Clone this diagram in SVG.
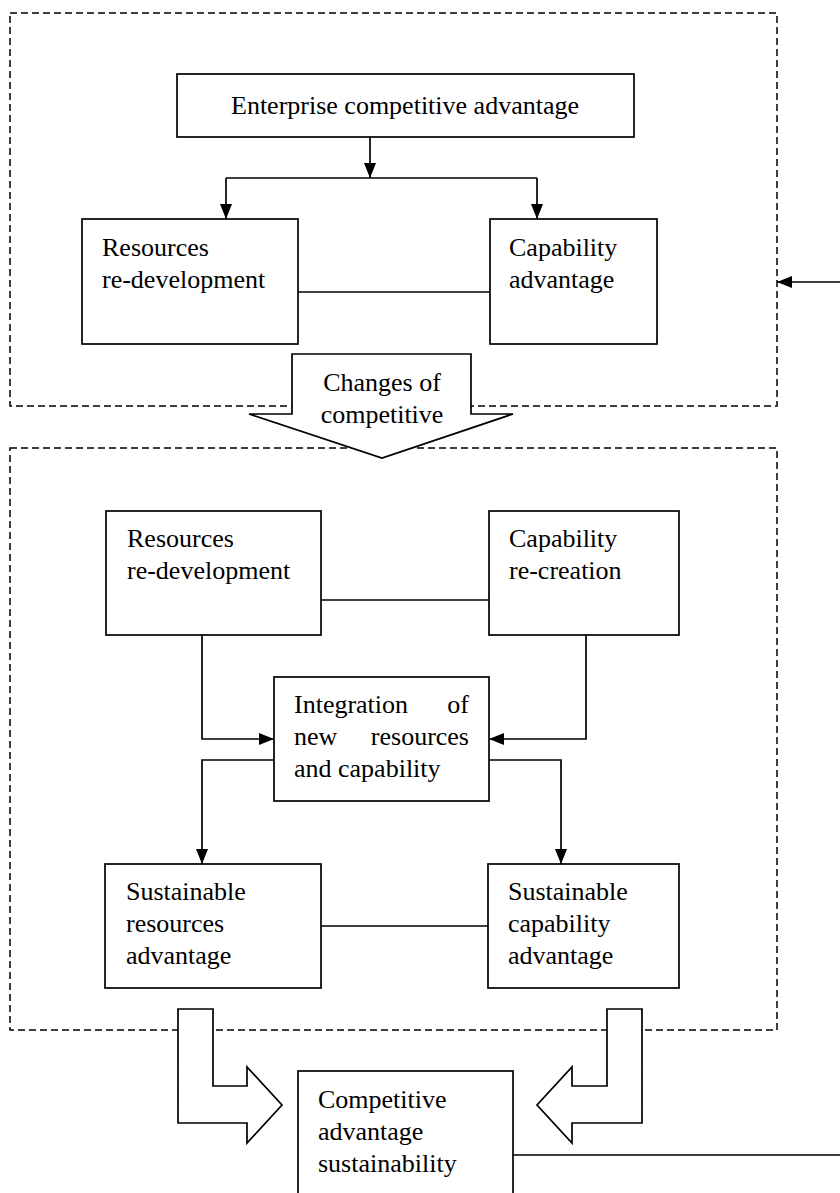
<svg xmlns="http://www.w3.org/2000/svg" width="840" height="1193" viewBox="0 0 840 1193">
<style>
.box{fill:#fff;stroke:#000;stroke-width:1.7}
.dash{fill:none;stroke:#000;stroke-width:1.5;stroke-dasharray:7,4}
.hollow{fill:#fff;stroke:#000;stroke-width:1.7;stroke-linejoin:miter}
.ln{fill:none;stroke:#000;stroke-width:1.7}
.t{font-family:"Liberation Serif","Times New Roman",serif;font-size:26px;fill:#000}
.c{text-anchor:middle}
.e{text-anchor:end}
</style>
<defs>
<marker id="ah" markerWidth="15" markerHeight="12" refX="15" refY="6" orient="auto" markerUnits="userSpaceOnUse">
<path d="M0,0 L15,6 L0,12 Z" fill="#000"/>
</marker>
</defs>
<rect class="dash" x="10" y="13" width="767" height="393"/>
<rect class="dash" x="10" y="448" width="767" height="582"/>
<g id="arrow-changes">
<polygon class="hollow" points="292,354 471,354 471,414 513,414 382,458 249,414 292,414"/>
<text class="t c" x="382" y="391">Changes of</text>
<text class="t c" x="382" y="423">competitive</text>
</g>
<g id="arrow-left-bottom">
<polygon class="hollow" points="178,1009 213,1009 213,1086 247,1086 247,1067 282,1105 247,1143 247,1123 178,1123"/>
</g>
<g id="arrow-right-bottom">
<polygon class="hollow" points="642,1009 607,1009 607,1086 572,1086 572,1067 537,1105 572,1143 572,1123 642,1123"/>
</g>
<g id="connectors">
<polyline class="ln" points="370,137 370,178" marker-end="url(#ah)"/>
<polyline class="ln" points="226,178 537,178"/>
<polyline class="ln" points="226,178 226,219" marker-end="url(#ah)"/>
<polyline class="ln" points="537,178 537,219" marker-end="url(#ah)"/>
<line class="ln" x1="298" y1="292" x2="490" y2="292"/>
<polyline class="ln" points="840,282 777,282" marker-end="url(#ah)"/>
<line class="ln" x1="321" y1="600" x2="489" y2="600"/>
<polyline class="ln" points="202,635 202,739 274,739" marker-end="url(#ah)"/>
<polyline class="ln" points="586,635 586,739 489,739" marker-end="url(#ah)"/>
<polyline class="ln" points="274,760 202,760 202,864" marker-end="url(#ah)"/>
<polyline class="ln" points="489,760 561,760 561,864" marker-end="url(#ah)"/>
<line class="ln" x1="321" y1="926" x2="488" y2="926"/>
<line class="ln" x1="513" y1="1155" x2="840" y2="1155"/>
</g>
<g id="enterprise">
<rect class="box" x="177" y="74" width="457" height="63"/>
<text class="t c" x="405" y="114">Enterprise competitive advantage</text>
</g>
<g id="resources1">
<rect class="box" x="82" y="219" width="216" height="125"/>
<text class="t" x="102" y="256">Resources</text>
<text class="t" x="102" y="288">re-development</text>
</g>
<g id="capability1">
<rect class="box" x="490" y="219" width="167" height="125"/>
<text class="t" x="509" y="256">Capability</text>
<text class="t" x="509" y="288">advantage</text>
</g>
<g id="resources2">
<rect class="box" x="106" y="511" width="215" height="124"/>
<text class="t" x="127" y="547">Resources</text>
<text class="t" x="127" y="579">re-development</text>
</g>
<g id="capability2">
<rect class="box" x="489" y="511" width="190" height="124"/>
<text class="t" x="509" y="547">Capability</text>
<text class="t" x="509" y="579">re-creation</text>
</g>
<g id="integration">
<rect class="box" x="274" y="677" width="215" height="124"/>
<text class="t" x="294" y="713">Integration</text>
<text class="t e" x="469" y="713">of</text>
<text class="t" x="294" y="745">new</text>
<text class="t e" x="469" y="745">resources</text>
<text class="t" x="294" y="777">and capability</text>
</g>
<g id="sust-resources">
<rect class="box" x="105" y="864" width="216" height="124"/>
<text class="t" x="126" y="900">Sustainable</text>
<text class="t" x="126" y="932">resources</text>
<text class="t" x="126" y="964">advantage</text>
</g>
<g id="sust-capability">
<rect class="box" x="488" y="864" width="191" height="124"/>
<text class="t" x="508" y="900">Sustainable</text>
<text class="t" x="508" y="932">capability</text>
<text class="t" x="508" y="964">advantage</text>
</g>
<g id="competitive-sustainability">
<rect class="box" x="298" y="1071" width="215" height="130"/>
<text class="t" x="318" y="1108">Competitive</text>
<text class="t" x="318" y="1140">advantage</text>
<text class="t" x="318" y="1172">sustainability</text>
</g>
</svg>
